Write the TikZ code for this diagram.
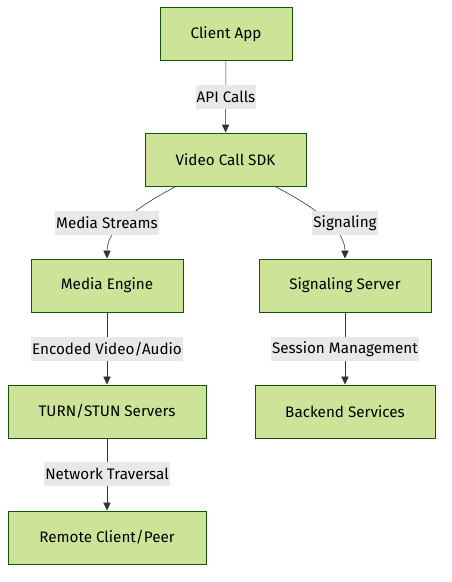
\documentclass[tikz,border=0pt]{standalone}
\usepackage{fontspec}
\setmainfont{Fira Sans}
\usetikzlibrary{calc, arrows.meta, positioning}
\definecolor{boxfill}{HTML}{CDE498}
\definecolor{boxline}{HTML}{13540C}
\definecolor{labfill}{HTML}{E8E8E8}

\begin{document}
\begin{tikzpicture}[
    font=\fontsize{13}{15}\selectfont,
    block/.style={draw=boxline, fill=boxfill, line width=0.8pt, minimum height=1.59cm, inner sep=0pt},
    elabel/.style={fill=labfill, inner xsep=1pt, inner ysep=0pt, minimum height=0.72cm},
    arr/.style={-{Triangle[length=0.24cm, width=0.22cm]}, line width=0.5pt, draw=black!80}
    ]
    \useasboundingbox (0, 0) rectangle (13.53, -17.46);
    \node[block, minimum width=3.96cm] (client) at (6.78, -1.02) {Client App};
    \node[block, minimum width=4.83cm] (sdk) at (6.765, -4.785) {Video Call SDK};
    \node[block, minimum width=4.56cm] (media) at (3.21, -8.565) {Media Engine};
    \node[block, minimum width=5.16cm] (sigserver) at (10.35, -8.565) {Signaling Server};
    \node[block, minimum width=5.94cm] (turn) at (3.21, -12.345) {TURN/STUN Servers};
    \node[block, minimum width=5.40cm] (backend) at (10.35, -12.345) {Backend Services};
    \node[block, minimum width=5.94cm] (remote) at (3.21, -16.125) {Remote Client/Peer};
    \draw[arr] (client) -- (sdk);
    \draw[arr] ([xshift=-1.485cm]sdk.south) .. controls (4.5, -6.0) and (3.21, -6.75) .. (media.north);
    \draw[arr] ([xshift=1.485cm]sdk.south) .. controls (9.03, -6.0) and (10.35, -6.75) .. (sigserver.north);
    \draw[arr] (media) -- (turn);
    \draw[arr] (sigserver) -- (backend);
    \draw[arr] (turn) -- (remote);
    \node[elabel] (apicalls) at (6.78, -2.91) {API Calls};
    \node[elabel] (streams) at (3.21, -6.69) {Media Streams};
    \node[elabel] (signaling) at (10.35, -6.69) {Signaling};
    \node[elabel] (encoded) at (3.21, -10.47) {Encoded Video/Audio};
    \node[elabel] (session) at (10.35, -10.47) {Session Management};
    \node[elabel] (traversal) at (3.21, -14.22) {Network Traversal};
\end{tikzpicture}
\end{document}
